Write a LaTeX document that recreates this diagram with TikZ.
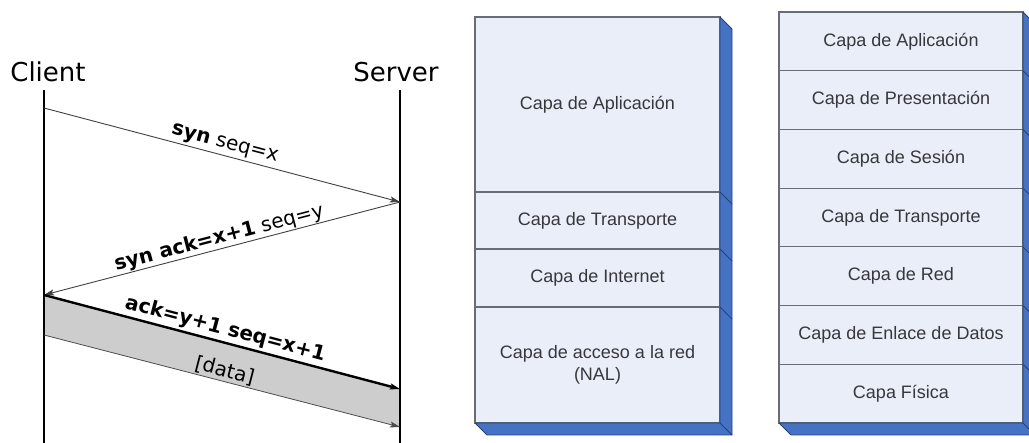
\documentclass[tikz,border=0pt]{standalone}
\usepackage{fontspec}
\setmainfont{Liberation Sans}
\newfontfamily\djv{DejaVu Sans}
\usetikzlibrary{arrows.meta,calc,positioning}
\definecolor{layerfill}{RGB}{233,238,248}
\definecolor{layerline}{RGB}{105,108,118}
\definecolor{sidefill}{RGB}{70,114,196}
\definecolor{sideline}{RGB}{38,64,120}
\definecolor{datagray}{RGB}{205,205,205}
\definecolor{labeltext}{RGB}{55,55,60}
\tikzset{
  layer/.style={draw=layerline, fill=layerfill, line width=1.2pt, outer sep=0pt, inner sep=0pt,
    align=center, text=labeltext, font=\fontsize{18}{22}\selectfont},
  mid/.style={layer, minimum width=245pt},
  osi/.style={layer, minimum width=244pt, minimum height=58.7pt},
  side/.style={fill=sidefill, draw=sideline, line width=0.8pt, line join=round},
  host/.style={font=\djv\fontsize{26}{30}\selectfont, anchor=base},
  msg/.style={font=\djv\fontsize{20}{24}\selectfont, sloped, inner sep=0pt},
  tip/.style={-{Stealth[length=10pt,width=6pt,inset=2pt]}}
}

\begin{document}
\begin{tikzpicture}[x=1pt,y=-1pt]
	\useasboundingbox (0,0) rectangle (1029,443);

	\node[host] (client) at (48,82) {Client};
	\node[host] (server) at (396,82) {Server};

	\coordinate (c0) at (44,90);
	\coordinate (c1) at (44,443);
	\coordinate (c2) at (44,108);
	\coordinate (c3) at (44,295);
	\coordinate (c4) at (44,335);
	\coordinate (s0) at (400,90);
	\coordinate (s1) at (400,443);
	\coordinate (s2) at (400,202);
	\coordinate (s3) at (400,389);
	\coordinate (s4) at (400,427);

	\fill[datagray] (c3) -- (s3) -- (s4) -- (c4) -- cycle;
	\draw[line width=1.2pt] (c0) -- (c1);
	\draw[line width=1.2pt] (s0) -- (s1);

	\path[draw=black!75, line width=0.9pt, tip] (c2) -- node[msg, above=2.5pt] {\textbf{syn} seq=x} (s2);
	\path[draw=black!75, line width=0.9pt, tip] (s2) -- node[msg, above=0.5pt] {\textbf{syn ack=x+1} seq=y} (c3);
	\path[draw=black, line width=2.4pt, tip] (c3) -- node[msg, above=2pt] {\textbf{ack=y+1 seq=x+1}} (s3);
	\path[draw=black!70, line width=0.8pt, tip] (c4) -- node[msg, above=1.5pt] {[data]} (s4);

	\node[mid, minimum height=175pt] (tApp) at (597.5,104.5) {Capa de Aplicación};
	\node[mid, minimum height=57pt, below=0pt of tApp] (tTra) {Capa de Transporte};
	\node[mid, minimum height=58pt, below=0pt of tTra] (tInt) {Capa de Internet};
	\node[mid, minimum height=116pt, below=0pt of tInt] (tNal) {Capa de acceso a la red\\(NAL)};

	\draw[side] (tApp.north east) -- ++(12,12) -- ($(tNal.south east)+(12,12)$)
		-- ($(tNal.south west)+(12,12)$) -- (tNal.south west) -- (tNal.south east) -- cycle;
	\foreach \n in {tApp,tTra,tInt,tNal}
		\draw[sideline, line width=0.8pt] (\n.south east) -- ++(12,12);

	\node[osi] (oApp) at (901,41.4) {Capa de Aplicación};
	\node[osi, below=0pt of oApp] (oPre) {Capa de Presentación};
	\node[osi, below=0pt of oPre] (oSes) {Capa de Sesión};
	\node[osi, below=0pt of oSes] (oTra) {Capa de Transporte};
	\node[osi, below=0pt of oTra] (oRed) {Capa de Red};
	\node[osi, below=0pt of oRed] (oEnl) {Capa de Enlace de Datos};
	\node[osi, below=0pt of oEnl] (oFis) {Capa Física};

	\draw[side] (oApp.north east) -- ++(12,12) -- ($(oFis.south east)+(12,12)$)
		-- ($(oFis.south west)+(12,12)$) -- (oFis.south west) -- (oFis.south east) -- cycle;
	\foreach \n in {oApp,oPre,oSes,oTra,oRed,oEnl,oFis}
		\draw[sideline, line width=0.8pt] (\n.south east) -- ++(12,12);
\end{tikzpicture}
\end{document}
